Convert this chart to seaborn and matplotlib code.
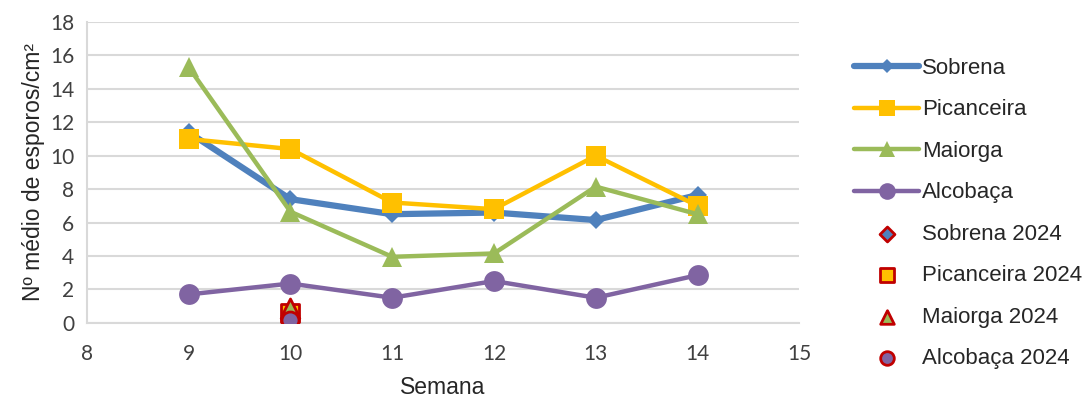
import matplotlib
matplotlib.use("Agg")
from matplotlib import pyplot as plt
import numpy as np
import pandas as pd
import seaborn as sns

# weekly mean spore counts per site
semanas = [9, 10, 11, 12, 13, 14]
sobrena = [11.4, 7.4, 6.5, 6.6, 6.15, 7.65]
picanceira = [11.0, 10.4, 7.2, 6.8, 10.0, 7.0]
maiorga = [15.3, 6.65, 3.95, 4.15, 8.15, 6.5]
alcobaca = [1.7, 2.35, 1.5, 2.5, 1.5, 2.85]

# 2024 values (week 10 only)
semana_2024 = 10
sobrena_2024 = 0.3
picanceira_2024 = 0.6
maiorga_2024 = 0.95
alcobaca_2024 = 0.15

sites = ["Sobrena", "Picanceira", "Maiorga", "Alcobaça"]
cores = ["#4F81BD", "#FFC000", "#9BBB59", "#8064A2"]
marcadores = ["D", "s", "^", "o"]
lw = [4.5, 3.2, 3.2, 3.2]
msizes = [9, 15, 15, 15]
valores = [sobrena, picanceira, maiorga, alcobaca]
valores_2024 = [sobrena_2024, picanceira_2024, maiorga_2024, alcobaca_2024]

sns.set_style("white")
plt.rcParams['font.family'] = ['Liberation Sans', 'DejaVu Sans']

fig = plt.figure(figsize=(10.86, 4.01), dpi=100)
ax = fig.add_axes([0.080, 0.195, 0.656, 0.75])

for nome, vals, cor, mk, w, ms in zip(sites, valores, cores, marcadores, lw, msizes):
    df = pd.DataFrame({"Semana": semanas, "valor": vals})
    sns.lineplot(data=df, x="Semana", y="valor", ax=ax, color=cor, linewidth=w,
                 marker=mk, markersize=ms, markeredgewidth=0, label=nome, zorder=3)

df24 = pd.DataFrame({"Semana": [semana_2024] * 4, "valor": valores_2024, "site": [s + " 2024" for s in sites]})
for (_, row), cor, mk in zip(df24.iterrows(), cores, marcadores):
    sz = 90 if mk == "D" else 150
    sns.scatterplot(x=[row["Semana"]], y=[row["valor"]], ax=ax, color=cor, marker=mk, s=sz,
                    edgecolor="#C00000", linewidth=2, label=row["site"], zorder=4)

ax.set_xlim(8, 15)
ax.set_ylim(0, 18)
ax.set_xticks(range(8, 16))
ax.set_yticks(range(0, 19, 2))
ax.grid(axis="y", color="#D9D9D9", linewidth=1.5)
ax.set_axisbelow(True)
for s in ["top", "right"]:
    ax.spines[s].set_visible(False)
ax.spines["left"].set_color("#D9D9D9")
ax.spines["bottom"].set_color("#D9D9D9")
ax.spines["left"].set_linewidth(1.5)
ax.spines["bottom"].set_linewidth(1.5)
ax.tick_params(axis="both", length=6, color="#D9D9D9", width=1.5, labelsize=15)
ax.tick_params(axis="y", pad=3)
ax.tick_params(axis="x", pad=9)
for t in ax.get_xticklabels() + ax.get_yticklabels():
    t.set_color("#404040")
    t.set_fontfamily(["Lato", "DejaVu Sans"])
ax.set_xlabel("Semana", fontsize=16.5, labelpad=9)
ax.set_ylabel("Nº médio de esporos/cm²", fontsize=16.5, labelpad=4)

handles, labels = ax.get_legend_handles_labels()
leg = ax.legend(handles, labels, loc="upper left", bbox_to_anchor=(1.065, 0.91), frameon=False,
                fontsize=16, handlelength=2.9, handletextpad=0.15, labelspacing=0.92,
                borderaxespad=0, markerscale=0.8)

fig.savefig("out.png", dpi=100)
